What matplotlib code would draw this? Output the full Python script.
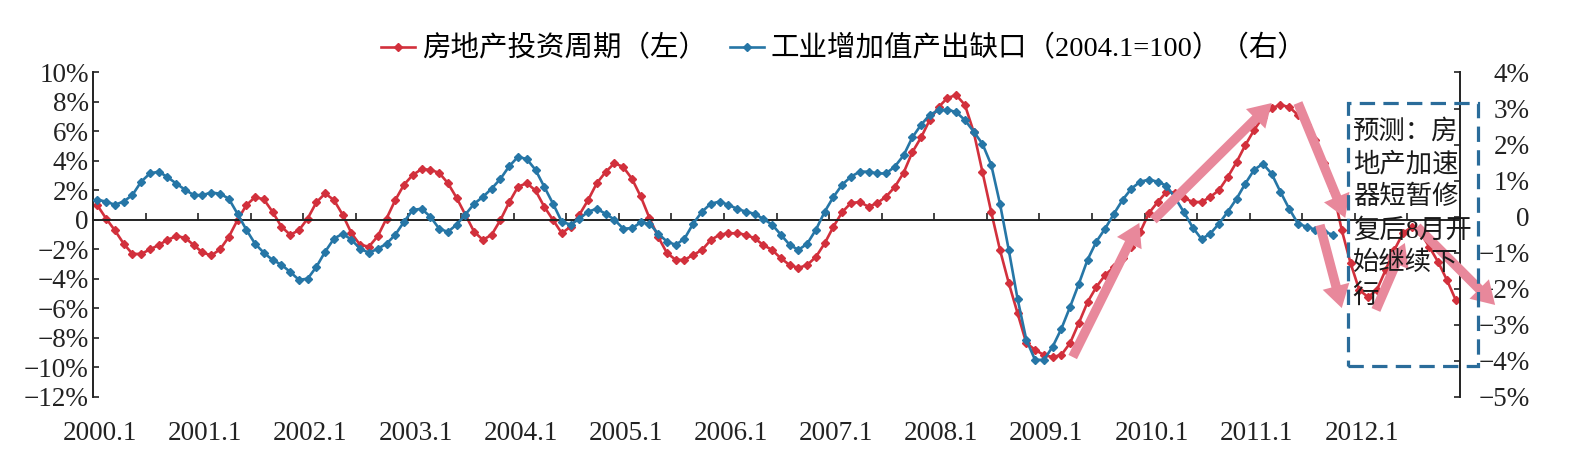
import numpy as np
import matplotlib.pyplot as plt
from matplotlib.patches import Rectangle

plt.rcParams['font.family'] = ['Liberation Serif', 'Noto Sans CJK SC']

RED = '#D2303C'
BLUE = '#2676A6'
PINK = '#E8889B'

# monthly, 2000.1 - 2012.12 (left axis, %)
house_cycle = [
    1.0, 0.1, -0.7, -1.6, -2.3, -2.3, -2.0, -1.7, -1.35, -1.1, -1.2, -1.7,
    -2.2, -2.4, -2.0, -1.15, 0.0, 1.0, 1.55, 1.4, 0.55, -0.45, -1.0, -0.7,
    0.1, 1.2, 1.8, 1.35, 0.35, -0.9, -1.7, -1.8, -1.1, 0.1, 1.35, 2.4,
    3.05, 3.45, 3.4, 3.2, 2.5, 1.5, 0.35, -0.8, -1.35, -1.0, 0.0, 1.2,
    2.25, 2.5, 2.0, 0.9, 0.0, -0.9, -0.45, 0.35, 1.35, 2.5, 3.25, 3.85,
    3.6, 2.8, 1.6, 0.14, -1.15, -2.24, -2.7, -2.7, -2.37, -2.03, -1.36, -1.0,
    -0.9, -0.9, -1.0, -1.24, -1.7, -2.03, -2.6, -3.05, -3.25, -3.05, -2.5, -1.58,
    -0.45, 0.54, 1.15, 1.22, 0.9, 1.15, 1.58, 2.24, 3.2, 4.6, 5.6, 6.8,
    7.66, 8.27, 8.47, 7.8, 5.97, 3.25, 0.54, -2.03, -4.27, -6.3, -8.34, -8.8,
    -9.15, -9.29, -9.15, -8.34, -6.98, -5.56, -4.54, -3.73, -3.19, -2.58, -1.83, -0.81,
    0.47, 1.22, 1.9, 1.85, 1.49, 1.22, 1.22, 1.56, 2.03, 2.92, 3.93, 5.08,
    6.1, 6.98, 7.59, 7.8, 7.66, 7.12, 6.44, 5.42, 3.86, 2.03, -0.68, -2.92,
    -4.75, -5.22, -4.75, -3.39, -2.03, -0.88, -0.47, -0.88, -1.83, -2.85, -4.07, -5.42,
]

# monthly, 2000.1 - 2011.10 (right axis, %)
output_gap = [
    0.47, 0.42, 0.33, 0.42, 0.6, 0.97, 1.2, 1.25, 1.1, 0.92, 0.75, 0.6,
    0.6, 0.67, 0.64, 0.5, 0.08, -0.36, -0.75, -1.0, -1.2, -1.33, -1.53, -1.75,
    -1.72, -1.39, -0.97, -0.61, -0.47, -0.64, -0.89, -1.0, -0.89, -0.75, -0.5, -0.14,
    0.19, 0.22, 0.0, -0.33, -0.42, -0.22, 0.06, 0.36, 0.55, 0.78, 1.05, 1.4,
    1.66, 1.6, 1.3, 0.83, 0.36, -0.14, -0.22, -0.06, 0.14, 0.22, 0.08, -0.08,
    -0.33, -0.32, -0.16, -0.19, -0.47, -0.69, -0.78, -0.61, -0.19, 0.14, 0.36, 0.42,
    0.33, 0.22, 0.14, 0.08, -0.06, -0.22, -0.5, -0.78, -0.92, -0.75, -0.36, 0.14,
    0.55, 0.89, 1.11, 1.25, 1.25, 1.2, 1.2, 1.39, 1.7, 2.2, 2.55, 2.83,
    2.95, 2.97, 2.9, 2.68, 2.36, 2.02, 1.44, 0.36, -0.92, -2.27, -3.41, -3.97,
    -3.97, -3.61, -3.11, -2.5, -1.86, -1.19, -0.69, -0.33, 0.08, 0.47, 0.78, 0.97,
    1.03, 0.97, 0.86, 0.52, 0.12, -0.3, -0.62, -0.47, -0.19, 0.14, 0.5, 0.92,
    1.3, 1.47, 1.19, 0.69, 0.22, -0.19, -0.28, -0.36, -0.42, -0.5,
]

year_labels = ['2000.1', '2001.1', '2002.1', '2003.1', '2004.1', '2005.1', '2006.1',
               '2007.1', '2008.1', '2009.1', '2010.1', '2011.1', '2012.1']
left_ticks = [-12, -10, -8, -6, -4, -2, 0, 2, 4, 6, 8, 10]
right_ticks = [-5, -4, -3, -2, -1, 0, 1, 2, 3, 4]

# pink trend arrows, (tail, tip) in (month index, left-axis %)
arrows = [
    ((111.8, -9.29), (119.4, -0.2)),
    ((121.0, 0.0), (134.5, 7.93)),
    ((137.5, 7.93), (142.9, 0.14)),
    ((140.0, -0.34), (142.5, -5.97)),
    ((146.4, -6.1), (149.7, -1.56)),
    ((151.1, -0.47), (160.0, -5.76)),
]
note = '预测：房\n地产加速\n器短暂修\n复后8月开\n始继续下\n行'
note_box = (143.2, -9.9, 14.9, 17.83)   # x, y, width, height

def pct(v):
    return '0' if v == 0 else (str(v) + '%').replace('-', '\u2212')

fig = plt.figure(figsize=(15.86, 4.67), dpi=100)
ax = fig.add_axes([0.0586, 0.1499, 0.8620, 0.6949])
ax2 = ax.twinx()

xr = np.arange(len(house_cycle)) + 0.5
xb = np.arange(len(output_gap)) + 0.5
l1, = ax.plot(xr, house_cycle, color=RED, lw=1.9, marker='D', ms=4.4,
              label='房地产投资周期（左）')
l2, = ax2.plot(xb, output_gap, color=BLUE, lw=1.9, marker='D', ms=4.4,
               label='工业增加值产出缺口（2004.1=100）（右）')

# left axis + zero line
ax.set_xlim(0, 156)
ax.set_ylim(-12, 10)
ax.set_yticks(left_ticks)
ax.set_yticklabels([pct(v) for v in left_ticks])
ax.spines['top'].set_visible(False)
ax.spines['right'].set_visible(False)
ax.spines['bottom'].set_position(('data', 0))
for s in ['left', 'bottom']:
    ax.spines[s].set_linewidth(1.4)
    ax.spines[s].set_color('#222222')
ax.tick_params(axis='y', direction='in', length=4.5, width=1.2, pad=3,
               labelsize=19.5, colors='#222222')
ax.set_xticks(np.arange(0, 157, 6))
ax.tick_params(axis='x', direction='in', length=5, width=1.2, labelbottom=False,
               colors='#222222')

sec = ax.secondary_xaxis('bottom')
sec.set_xticks(np.arange(0, 156, 12) + 0.8, year_labels)
sec.tick_params(length=0, pad=17, labelsize=19.5, colors='#222222')
sec.spines['bottom'].set_visible(False)

# right axis
ax2.set_ylim(-5, 4)
ax2.set_yticks(right_ticks)
ax2.set_yticklabels([pct(v) for v in right_ticks])
for s in ['top', 'bottom', 'left']:
    ax2.spines[s].set_visible(False)
ax2.spines['right'].set_linewidth(1.4)
ax2.spines['right'].set_color('#222222')
ax2.tick_params(axis='y', direction='in', length=4.5, width=1.2, pad=50,
                labelsize=19.5, colors='#222222')
for t in ax2.get_yticklabels():
    t.set_ha('right')

# annotations
for tail, tip in arrows:
    ax2.annotate('', xy=tip, xycoords=ax.transData, xytext=tail, textcoords=ax.transData,
                 arrowprops=dict(arrowstyle='simple,head_length=0.9,head_width=1.1,tail_width=0.38',
                                 mutation_scale=18, color=PINK, lw=0, shrinkA=0, shrinkB=0),
                 annotation_clip=False, zorder=6)

bx, by, bw, bh = note_box
ax2.add_patch(Rectangle((bx, by), bw, bh, transform=ax.transData, fill=False,
                        ec='#2A6C9A', lw=2.3, ls=(0, (4.8, 2.6)), clip_on=False, zorder=7))
ax2.text(bx + 0.55, 6.85, note, transform=ax.transData, fontsize=19, va='top', ha='left',
         linespacing=1.42, color='#1a1a1a', zorder=8, clip_on=False)
ax2.set_ylim(-5, 4)

fig.legend(handles=[l1, l2], loc='center', bbox_to_anchor=(0.532, 0.895), ncol=2,
           frameon=False, fontsize=20.5, handlelength=1.2, handletextpad=0.25,
           columnspacing=0.8, borderpad=0)

fig.savefig('out.png', dpi=100, facecolor='white')
